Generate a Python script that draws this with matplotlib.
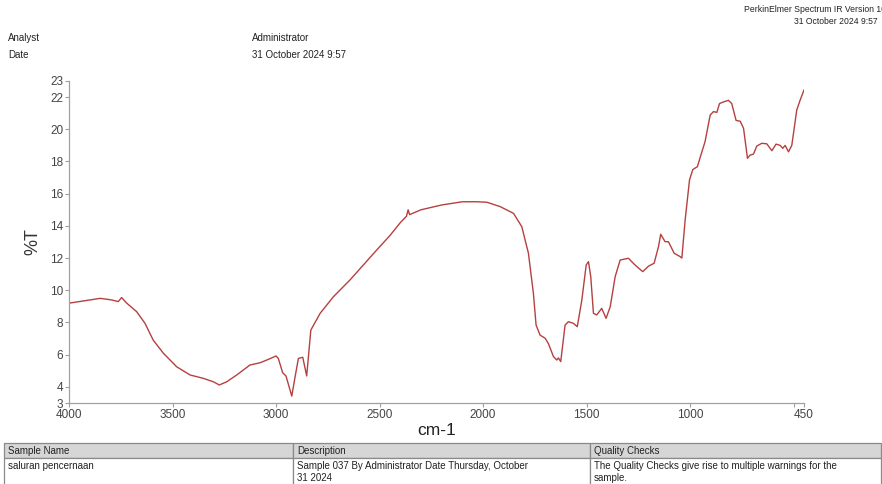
import matplotlib
matplotlib.use("Agg")
import matplotlib.pyplot as plt
from matplotlib import font_manager
from matplotlib.patches import Rectangle
import numpy as np

# Infrared spectrum: wavenumber (cm-1) and transmittance (%T)
wavenumber = [4000, 3950, 3899, 3850, 3820, 3794, 3762, 3746, 3721, 3673, 3633,
              3593, 3544, 3480, 3415, 3351, 3303, 3274, 3238, 3190, 3126, 3077,
              3037, 3000, 2989, 2968, 2952, 2924, 2908, 2892, 2871, 2852, 2832,
              2787, 2723, 2643, 2514, 2450, 2400, 2370, 2362, 2355, 2300, 2200,
              2100, 2030, 1982, 1918, 1853, 1813, 1781, 1757, 1744, 1725, 1700,
              1685, 1660, 1644, 1636, 1625, 1604, 1588, 1564, 1545, 1523, 1502,
              1491, 1480, 1467, 1451, 1427, 1406, 1386, 1362, 1338, 1298, 1266,
              1229, 1201, 1174, 1153, 1142, 1121, 1105, 1077, 1048, 1040, 1024,
              1003, 987, 965, 948, 928, 903, 887, 871, 858, 839, 815, 799, 778,
              758, 742, 723, 710, 694, 678, 654, 630, 605, 585, 565, 553, 541,
              525, 509, 485, 469, 450]
transmittance = [9.2, 9.3, 9.4, 9.5, 9.45, 9.4, 9.3, 9.55, 9.2, 8.67, 7.95,
                 6.9, 6.09, 5.25, 4.74, 4.53, 4.32, 4.12, 4.32, 4.74, 5.36, 5.5,
                 5.71, 5.92, 5.77, 4.88, 4.68, 3.43, 4.63, 5.77, 5.84, 4.68, 7.53,
                 8.57, 9.6, 10.64, 12.5, 13.4, 14.2, 14.6, 15.0, 14.7, 15.0, 15.3,
                 15.5, 15.5, 15.47, 15.2, 14.78, 13.95, 12.3, 9.81, 7.84, 7.22, 7.02,
                 6.7, 5.88, 5.67, 5.8, 5.57, 7.84, 8.05, 7.95, 7.74, 9.4, 11.57,
                 11.78, 10.85, 8.57, 8.47, 8.88, 8.26, 8.98, 10.85, 11.88, 11.99, 11.57,
                 11.16, 11.5, 11.68, 12.7, 13.48, 13.02, 13.02, 12.3, 12.09, 12.0, 14.37,
                 16.85, 17.5, 17.68, 18.4, 19.23, 20.89, 21.1, 21.05, 21.6, 21.7, 21.8,
                 21.6, 20.55, 20.5, 20.06, 18.2, 18.4, 18.46, 18.96, 19.13, 19.1, 18.67,
                 19.08, 19.0, 18.82, 19.0, 18.6, 19.0, 21.2, 21.8, 22.44]

x_ticks = [4000, 3500, 3000, 2500, 2000, 1500, 1000, 500, 450]
x_tick_labels = ["4000", "3500", "3000", "2500", "2000", "1500", "1000", "", "450"]
y_ticks = [3, 4, 6, 8, 10, 12, 14, 16, 18, 20, 22, 23]

header_labels = ["Analyst", "Date"]
header_values = ["Administrator", "31 October 2024 9:57"]
software_lines = ["PerkinElmer Spectrum IR Version 10.6.2", "31 October 2024 9:57"]
table_headers = ["Sample Name", "Description", "Quality Checks"]
table_cells = ["saluran pencernaan",
               "Sample 037 By Administrator Date Thursday, October\n31 2024",
               "The Quality Checks give rise to multiple warnings for the\nsample."]

available = {f.name for f in font_manager.fontManager.ttflist}
narrow = "Liberation Sans Narrow" if "Liberation Sans Narrow" in available else "Liberation Sans"
plt.rcParams["font.family"] = ["Liberation Sans", "DejaVu Sans"]

W, H = 882, 484
fig = plt.figure(figsize=(W / 100, H / 100), dpi=100)

# page overlay in pixel coordinates for header and sample table
page = fig.add_axes([0, 0, 1, 1], zorder=0)
page.set_xlim(0, W)
page.set_ylim(H, 0)
page.axis("off")

ax = fig.add_axes([69 / W, 1 - 403 / H, (804 - 69) / W, (403 - 81) / H], zorder=1)
ax.patch.set_alpha(0)
ax.plot(wavenumber, transmittance, color="#b5403f", lw=1.0)
ax.set_xlim(4000, 450)
ax.set_ylim(3, 23)
ax.set_xticks(x_ticks)
ax.set_xticklabels(x_tick_labels)
ax.set_yticks(y_ticks)
for s in ("top", "right"):
    ax.spines[s].set_visible(False)
for s in ("left", "bottom"):
    ax.spines[s].set_color("#a0a0a0")
    ax.spines[s].set_linewidth(0.9)
ax.tick_params(axis="both", length=3, width=0.8, color="#a0a0a0",
               labelsize=8.5, labelcolor="#444444", pad=1)
ax.set_ylabel("%T", fontsize=13, color="#333333", labelpad=6)
ax.set_xlabel("cm-1", fontsize=12.5, color="#222222", labelpad=2)

txt = dict(fontsize=7, family=narrow, color="#222222", va="center")
for i, (lab, val) in enumerate(zip(header_labels, header_values)):
    y = 38 + i * 17
    page.text(8, y, lab, **txt)
    page.text(252, y, val, **txt)
page.text(744, 10, software_lines[0], fontsize=6.2, family=narrow, color="#222222",
          va="center", clip_on=True)
page.text(794, 22, software_lines[1], fontsize=6.2, family=narrow, color="#222222",
          va="center")

# sample table
cols = [4, 293, 590, 881]
top, mid, bottom = 443, 458, 490
for c0, c1, head, cell in zip(cols[:-1], cols[1:], table_headers, table_cells):
    page.add_patch(Rectangle((c0, top), c1 - c0, mid - top, facecolor="#d6d6d6",
                             edgecolor="#8a8a8a", lw=0.9))
    page.add_patch(Rectangle((c0, mid), c1 - c0, bottom - mid, facecolor="white",
                             edgecolor="#8a8a8a", lw=0.9))
    page.text(c0 + 4, (top + mid) / 2, head, **txt)
    page.text(c0 + 4, mid + 3, cell, fontsize=7, family=narrow, color="#222222",
              va="top", linespacing=1.25)

fig.savefig("out.png", dpi=100)
